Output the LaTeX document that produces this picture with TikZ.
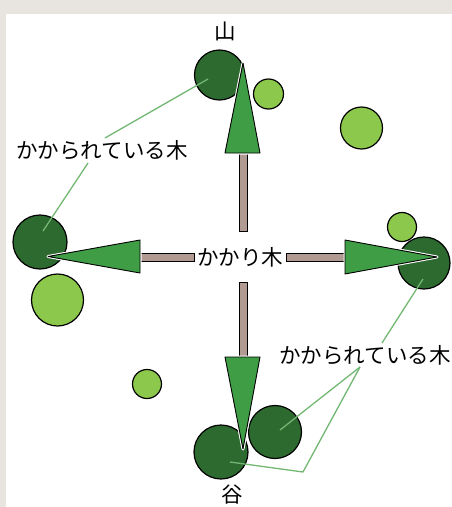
\documentclass[tikz,border=0pt]{standalone}
\usepackage{fontspec}
\newfontfamily\jp{Noto Sans CJK JP}
\definecolor{bgframe}{HTML}{E8E5E0}
\definecolor{darkgreen}{HTML}{2D6A30}
\definecolor{lightgreen}{HTML}{8CC84B}
\definecolor{arrowgreen}{HTML}{3F9E45}
\definecolor{shaftcol}{HTML}{B09A92}
\definecolor{leadercol}{HTML}{72B872}
\begin{document}
\begin{tikzpicture}[x=1pt,y=-1pt,
  darktree/.style={circle,draw=black,line width=1.2pt,fill=darkgreen,inner sep=0pt,minimum size=#1},
  lighttree/.style={circle,draw=black,line width=1.2pt,fill=lightgreen,inner sep=0pt,minimum size=#1},
  shaft/.style={draw=black,line width=0.9pt,fill=shaftcol},
  head/.style={fill=arrowgreen,draw=black,line width=0.9pt,line join=round},
  halo/.style={draw=white,line width=3pt,line join=round},
  leader/.style={draw=leadercol,line width=1.3pt},
  lab/.style={font=\jp\fontsize{21.5}{21.5}\selectfont,inner sep=1pt,text=black}
]
\useasboundingbox (0,0) rectangle (452,507);
\fill[bgframe] (0,0) rectangle (452,507);
\fill[white] (6,14) rectangle (452,507);

% trees
\node[darktree=50pt] (tTop) at (219.5,75) {};
\node[lighttree=30pt] (lTop) at (268.5,94) {};
\node[lighttree=42pt] (lTopR) at (361.5,128) {};
\node[darktree=54pt] (tLeft) at (40,242) {};
\node[lighttree=52pt] (lLeft) at (57.5,300) {};
\node[lighttree=29pt] (lRight) at (402,227) {};
\node[darktree=52pt] (tRight) at (424,263) {};
\node[lighttree=29pt] (lBot) at (147,384) {};
\node[darktree=53pt] (tBotR) at (275,432) {};
\node[darktree=54pt] (tBotL) at (221,452) {};

% centre label
\node[lab] (center) at (240,257) {かかり木};

% shafts
\draw[shaft] (239,153) rectangle (247,231);
\draw[shaft] (239,282) rectangle (247,357);
\draw[shaft] (140,253.5) rectangle (194,261.5);
\draw[shaft] (286,253.5) rectangle (345,261.5);

% arrow heads
\coordinate (aUp) at (243,63);
\coordinate (aLeft) at (48,256.5);
\coordinate (aRight) at (437,257);
\coordinate (aDown) at (243,449);
\path[halo] (225,153) -- (aUp) -- (260,153) -- cycle;
\path[head] (225,153) -- (aUp) -- (260,153) -- cycle;
\path[halo] (140,240) -- (aLeft) -- (140,273) -- cycle;
\path[head] (140,240) -- (aLeft) -- (140,273) -- cycle;
\path[halo] (345,240) -- (aRight) -- (345,274) -- cycle;
\path[head] (345,240) -- (aRight) -- (345,274) -- cycle;
\path[halo] (225,357) -- (aDown) -- (260,357) -- cycle;
\path[head] (225,357) -- (aDown) -- (260,357) -- cycle;

% labels
\node[lab] (yama) at (225,31) {山};
\node[lab] (tani) at (232,495) {谷};
\node[lab] (kakL) at (102,150) {かかられている木};
\node[lab] (kakR) at (365,355) {かかられている木};

% leader lines
\coordinate (cTop) at (208,79);
\coordinate (eTop) at (105,138);
\coordinate (sL) at (88,163);
\coordinate (cLeft) at (43,231);
\coordinate (cRight) at (423,279);
\coordinate (eRight) at (382,343);
\coordinate (sR) at (360,367);
\coordinate (cBotR) at (280,430);
\coordinate (kink) at (303,472);
\coordinate (cBotL) at (230,462);
\draw[leader] (cTop) -- (eTop);
\draw[leader] (sL) -- (cLeft);
\draw[leader] (cRight) -- (eRight);
\draw[leader] (sR) -- (cBotR);
\draw[leader] (sR) -- (kink) -- (cBotL);
\end{tikzpicture}
\end{document}
